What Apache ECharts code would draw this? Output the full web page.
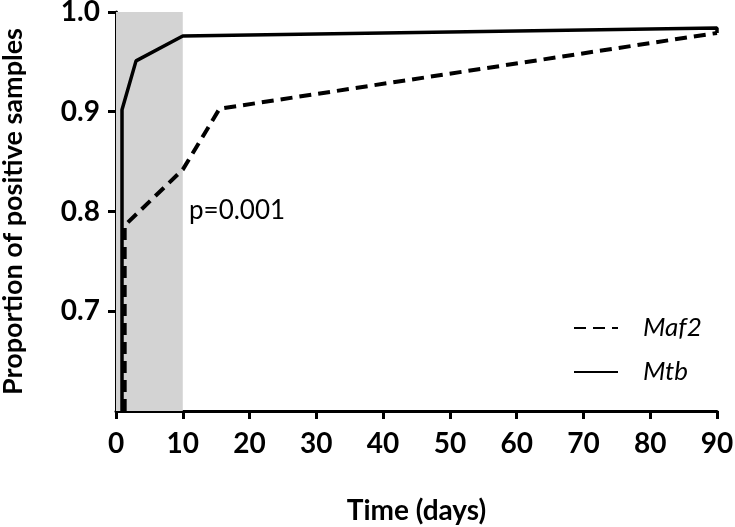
<!DOCTYPE html>
<html>
<head>
<meta charset="utf-8">
<script src="https://cdn.jsdelivr.net/npm/echarts@6/dist/echarts.min.js"></script>
<style>
html,body{margin:0;padding:0;background:#fff;}
#chart{width:735px;height:527px;}
</style>
</head>
<body>
<div id="chart"></div>
<script>
// Data
var seriesNames = ['Maf2', 'Mtb'];
var maf2Points = [[1.3, 0.6], [1.3, 0.786], [10, 0.842], [15.5, 0.903], [90, 0.979]];
var mtbPoints = [[0.9, 0.6], [0.9, 0.902], [3, 0.951], [10, 0.976], [90, 0.984], [90, 0.979]];
var shadedRange = [0, 10];
var yTickValues = [0.7, 0.8, 0.9, 1.0];
var annotationText = 'p=0.001';
var xTitle = 'Time (days)';
var yTitle = 'Proportion of positive samples';

var FONT = 'Lato';
var chart = echarts.init(document.getElementById('chart'));
chart.setOption({
  animation: false,
  backgroundColor: '#fff',
  grid: {left: 116, right: 18, top: 12, bottom: 116, containLabel: false, outerBoundsMode: 'none'},
  legend: {
    orient: 'vertical',
    left: 568,
    top: 310,
    itemWidth: 44,
    itemHeight: 14,
    itemGap: 18,
    itemStyle: {opacity: 0},
    textStyle: {fontFamily: FONT, fontStyle: 'italic', fontSize: 26, color: '#000', padding: [0, 0, 0, 20]},
    data: seriesNames
  },
  xAxis: {
    type: 'value', min: 0, max: 90, interval: 10,
    name: xTitle, nameLocation: 'middle', nameGap: 86,
    nameTextStyle: {fontFamily: FONT, fontWeight: 'bold', fontSize: 28, color: '#000'},
    axisLine: {onZero: false, lineStyle: {color: '#000', width: 3}},
    axisTick: {show: true, inside: false, length: 8, lineStyle: {color: '#000', width: 3}},
    axisLabel: {fontFamily: FONT, fontWeight: 'bold', fontSize: 28, color: '#000', margin: 19},
    splitLine: {show: false}
  },
  yAxis: {
    type: 'value', min: 0.6, max: 1.0, interval: 0.1,
    name: yTitle, nameLocation: 'middle', nameGap: 89,
    nameTextStyle: {fontFamily: FONT, fontWeight: 'bold', fontSize: 27, color: '#000'},
    axisLine: {onZero: false, lineStyle: {color: '#000', width: 3}},
    axisTick: {show: true, inside: false, length: 8, lineStyle: {color: '#000', width: 3},
      customValues: yTickValues},
    axisLabel: {fontFamily: FONT, fontWeight: 'bold', fontSize: 28, color: '#000', margin: 16,
      customValues: yTickValues,
      formatter: function (v) { return Number(v).toFixed(1); }},
    splitLine: {show: false}
  },
  series: [
    {
      name: seriesNames[0], type: 'line', data: maf2Points, symbol: 'none', z: 3,
      lineStyle: {color: '#000', width: 4, type: [12, 7]},
      itemStyle: {color: '#000'},
      markArea: {
        silent: true,
        itemStyle: {color: '#d3d3d3'},
        data: [[{xAxis: shadedRange[0]}, {xAxis: shadedRange[1]}]]
      }
    },
    {
      name: seriesNames[1], type: 'line', data: mtbPoints, symbol: 'none', z: 3,
      lineStyle: {color: '#000', width: 3.5},
      itemStyle: {color: '#000'}
    }
  ],
  graphic: [{
    type: 'text', left: 189, top: 198,
    style: {text: annotationText, fontFamily: FONT, fontSize: 26, fill: '#000'}
  }]
});
</script>
</body>
</html>
